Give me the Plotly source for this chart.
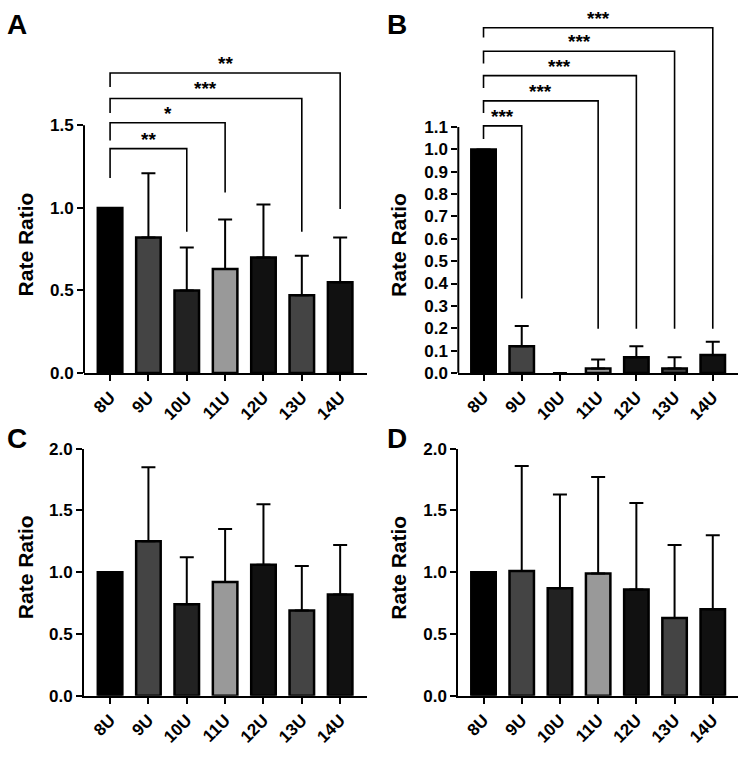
import plotly.graph_objects as go

# ---------------- data ----------------
categories = ["8U", "9U", "10U", "11U", "12U", "13U", "14U"]
bar_colors = ["#000000", "#444444", "#222222", "#999999", "#111111", "#444444", "#111111"]

a_values = [1.00, 0.82, 0.50, 0.63, 0.70, 0.47, 0.55]
a_upper = [1.00, 1.21, 0.76, 0.93, 1.02, 0.71, 0.82]

b_values = [1.00, 0.12, 0.00, 0.02, 0.07, 0.02, 0.08]
b_upper = [1.00, 0.21, 0.00, 0.06, 0.12, 0.07, 0.14]

c_values = [1.00, 1.25, 0.74, 0.92, 1.06, 0.69, 0.82]
c_upper = [1.00, 1.85, 1.12, 1.35, 1.55, 1.05, 1.22]

d_values = [1.00, 1.01, 0.87, 0.99, 0.86, 0.63, 0.70]
d_upper = [1.00, 1.86, 1.63, 1.77, 1.56, 1.22, 1.30]

a_comparisons = [("8U", "10U", "**"), ("8U", "11U", "*"), ("8U", "13U", "***"), ("8U", "14U", "**")]
b_comparisons = [("8U", "9U", "***"), ("8U", "11U", "***"), ("8U", "12U", "***"),
                 ("8U", "13U", "***"), ("8U", "14U", "***")]

# bracket geometry (top, left-leg end, right-leg end) in axis units
a_bracket_levels = [(1.359, 1.181, 0.856), (1.516, 1.408, 1.093),
                    (1.663, 1.575, 0.856), (1.817, 1.732, 0.994)]
b_bracket_levels = [(1.105, 1.047, 0.333), (1.217, 1.163, 0.198), (1.330, 1.275, 0.198),
                    (1.439, 1.384, 0.198), (1.544, 1.500, 0.198)]

# ---------------- layout helpers ----------------
W, H = 750, 759
FONT = "Liberation Sans, Arial, Helvetica, sans-serif"


def px_x(p):
    return p / W


def px_y(p):
    return (H - p) / H


panels = {
    # name: (xaxis id, yaxis id, x px domain, y px (bottom, top), y range, tickvals)
    "A": ("x", "y", (84, 367), (373.3, 34.7), [0, 2.0], [0, 0.5, 1.0, 1.5]),
    "B": ("x2", "y2", (458.3, 738), (373.3, 6.4), [0, 1.6], [round(0.1 * i, 1) for i in range(12)]),
    "C": ("x3", "y3", (84, 367), (704.3, 451), [0, 2.0], [0, 0.5, 1.0, 1.5, 2.0]),
    "D": ("x4", "y4", (458.3, 738), (704.3, 451), [0, 2.0], [0, 0.5, 1.0, 1.5, 2.0]),
}
x_ranges = {"A": [-0.68, 6.7], "B": [-0.66, 6.66], "C": [-0.68, 6.7], "D": [-0.66, 6.66]}
series = {"A": (a_values, a_upper), "B": (b_values, b_upper),
          "C": (c_values, c_upper), "D": (d_values, d_upper)}

fig = go.Figure()
layout = dict(
    width=W, height=H, margin=dict(l=0, r=0, t=0, b=0),
    paper_bgcolor="white", plot_bgcolor="white", showlegend=False,
    font=dict(family=FONT, color="black"),
)
shapes = []
annotations = []

ytickfont = dict(family=FONT, size=17, color="black", weight="bold")
xtickfont = dict(family=FONT, size=17, color="black", weight="bold")

for name, (xa, ya, xdom, ydom, yrange, tickvals) in panels.items():
    vals, upper = series[name]
    errs = [round(u - v, 3) for u, v in zip(upper, vals)]
    fig.add_trace(go.Bar(
        x=categories, y=vals, width=0.64,
        marker=dict(color=bar_colors,
                    line=dict(color="black", width=[2.5 if v > 0 else 0 for v in vals])),
        error_y=dict(type="data", symmetric=False, array=errs, arrayminus=[0] * len(errs),
                     color="black", thickness=2, width=7),
        xaxis=xa, yaxis=ya, hoverinfo="skip",
    ))
    xkey = "xaxis" + xa[1:]
    ykey = "yaxis" + ya[1:]
    layout[xkey] = dict(
        domain=[px_x(xdom[0]), px_x(xdom[1])], anchor=ya, type="category",
        range=x_ranges[name], showline=True, linewidth=2, linecolor="black",
        ticks="outside", ticklen=6, tickwidth=2, tickcolor="black",
        tickangle=-45, tickfont=xtickfont, showgrid=False, zeroline=False,
        categoryorder="array", categoryarray=categories, fixedrange=True,
    )
    tall = name in ("A", "B")
    layout[ykey] = dict(
        domain=[px_y(ydom[0]), px_y(ydom[1])], anchor=xa, range=yrange,
        tickmode="array", tickvals=tickvals, ticktext=[f"{t:.1f}" for t in tickvals],
        showline=not tall, linewidth=2, linecolor="black",
        ticks="outside", ticklen=6, tickwidth=2, tickcolor="black",
        tickfont=ytickfont, showgrid=False, zeroline=False, fixedrange=True,
    )
    if tall:
        shapes.append(dict(type="line", xref=f"{xa} domain", yref=ya,
                           x0=0, x1=0, y0=0, y1=max(tickvals),
                           line=dict(color="black", width=2)))
    # panel letter
    annotations.append(dict(
        text=name, xref="paper", yref="paper", showarrow=False,
        x=px_x(17 if name in ("A", "C") else 397), y=px_y(16 if name in ("A", "B") else 441),
        xanchor="center", yanchor="middle",
        font=dict(family=FONT, size=28, color="black", weight="bold"),
    ))
    # y title
    annotations.append(dict(
        text="Rate Ratio", xref="paper", yref="paper", showarrow=False, textangle=-90,
        x=px_x(25.5 if name in ("A", "C") else 399), y=px_y(242 if name in ("A", "B") else 573),
        xanchor="center", yanchor="middle",
        font=dict(family=FONT, size=21, color="black", weight="bold"),
    ))

# significance brackets
for (xa, ya), comps, levels in ((("x", "y"), a_comparisons, a_bracket_levels),
                                (("x2", "y2"), b_comparisons, b_bracket_levels)):
    for (c1, c2, label), (ytop, yl, yr) in zip(comps, levels):
        fig.add_trace(go.Scatter(
            x=[c1, c1, c2, c2], y=[yl, ytop, ytop, yr], mode="lines",
            line=dict(color="black", width=1.6), xaxis=xa, yaxis=ya, hoverinfo="skip",
        ))
        xm = (categories.index(c1) + categories.index(c2)) / 2
        annotations.append(dict(
            text=label, x=xm, y=ytop, xref=xa, yref=ya, showarrow=False,
            xanchor="center", yanchor="bottom", yshift=-3,
            font=dict(family=FONT, size=19, color="black", weight="bold"),
        ))

layout["shapes"] = shapes
layout["annotations"] = annotations
fig.update_layout(**layout)
fig.write_html("out.html", config={"displayModeBar": False},
               post_script="document.body.style.margin='0';")
